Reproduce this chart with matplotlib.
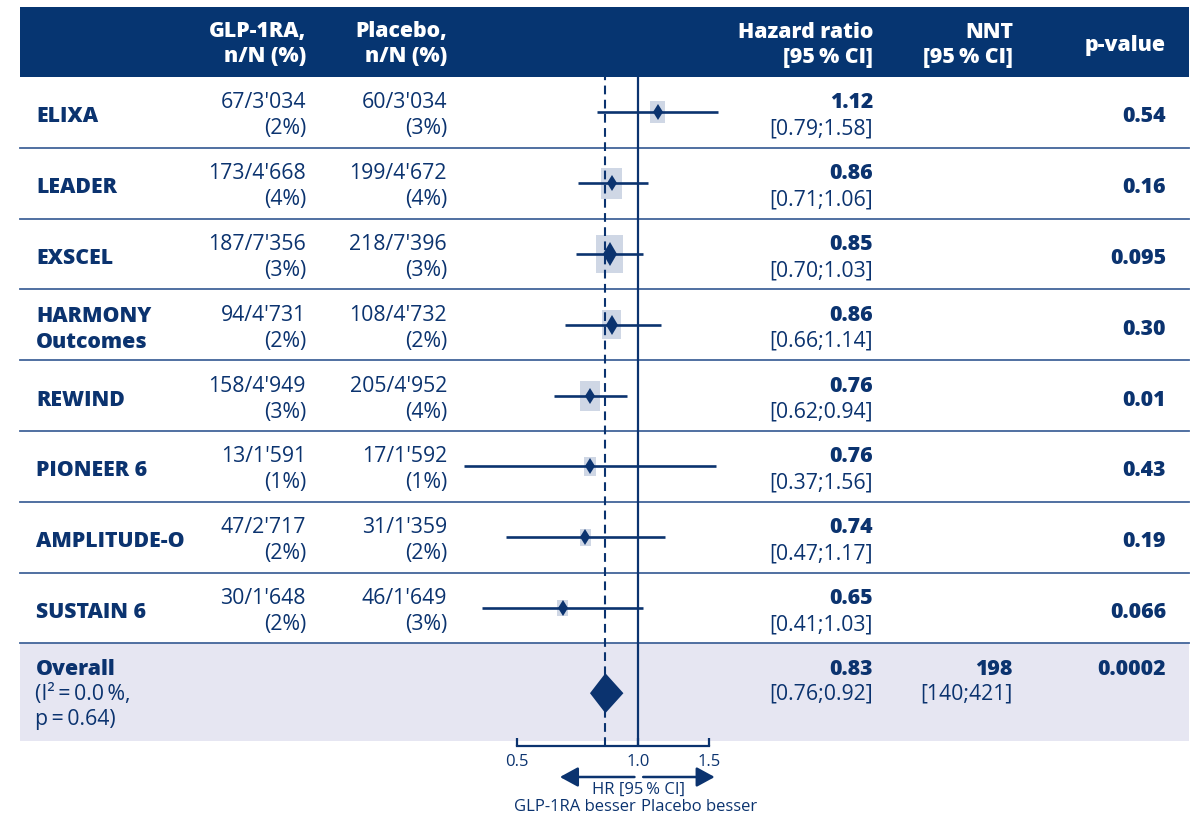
import numpy as np
import matplotlib
matplotlib.use("Agg")
import matplotlib.pyplot as plt
from matplotlib.patches import Rectangle, Polygon
from matplotlib.ticker import NullLocator

plt.rcParams['font.family'] = ['Open Sans', 'Noto Sans', 'DejaVu Sans']

# ---------------- data ----------------
studies = ["ELIXA", "LEADER", "EXSCEL", "HARMONY\nOutcomes", "REWIND",
           "PIONEER 6", "AMPLITUDE-O", "SUSTAIN 6"]
glp_events = [67, 173, 187, 94, 158, 13, 47, 30]
glp_total = [3034, 4668, 7356, 4731, 4949, 1591, 2717, 1648]
glp_pct = [2, 4, 3, 2, 3, 1, 2, 2]
pla_events = [60, 199, 218, 108, 205, 17, 31, 46]
pla_total = [3034, 4672, 7396, 4732, 4952, 1592, 1359, 1649]
pla_pct = [3, 4, 3, 2, 4, 1, 2, 3]
hr = [1.12, 0.86, 0.85, 0.86, 0.76, 0.76, 0.74, 0.65]
ci_lo = [0.79, 0.71, 0.70, 0.66, 0.62, 0.37, 0.47, 0.41]
ci_hi = [1.58, 1.06, 1.03, 1.14, 0.94, 1.56, 1.17, 1.03]
p_values = ["0.54", "0.16", "0.095", "0.30", "0.01", "0.43", "0.19", "0.066"]
weights = [8.6, 17.1, 27.0, 15.0, 16.0, 6.4, 5.1, 4.6]   # study weight (%)

overall_hr = 0.83
overall_lo = 0.76
overall_hi = 0.92
overall_nnt = 198
overall_nnt_lo = 140
overall_nnt_hi = 421
overall_p = "0.0002"
i2 = "0.0"
p_het = "0.64"

xticks = [0.5, 1.0, 1.5]
xtick_labels = ["0.5", "1.0", "1.5"]

# ---------------- style / layout ----------------
NAVY = "#0b336f"
BAND = "#063571"
OVBG = "#e6e6f2"
BOXC = "#cfd7e5"
SEPC = "#42649a"

W, H = 1200, 819
TAB_L, TAB_R = 20, 1189
HEAD_T, HEAD_B = 7, 77
ROW_H = 70.8
OV_B = 741
AXIS_Y = 746
X_NAME, X_GLP, X_PLA, X_HR, X_NNT, X_P = 36, 306, 447, 873, 1013, 1166
FP_L, FP_R = 440, 760
REF_X, PX_LN = 638, 175.0
FS = 15.3
BW = "heavy"
FS_AX = 12

diamond_ms = [8, 8, 12, 10, 8, 8, 8, 8]

fig = plt.figure(figsize=(12, 8.19), dpi=100)
ax_t = fig.add_axes([0, 0, 1, 1])
ax_t.set_xlim(0, W)
ax_t.set_ylim(H, 0)
ax_t.axis("off")
ax_t.set_zorder(0)

n = len(studies)
ov_top = HEAD_B + ROW_H * n

# header band
ax_t.add_patch(Rectangle((TAB_L, HEAD_T), TAB_R - TAB_L, HEAD_B - HEAD_T,
                         color=BAND, lw=0))
# overall band
ax_t.add_patch(Rectangle((TAB_L, ov_top), TAB_R - TAB_L, OV_B - ov_top,
                         color=OVBG, lw=0))

hkw = dict(color="white", fontsize=FS, fontweight=BW, ha="right", va="center")
ax_t.text(X_GLP, 32, "GLP-1RA,", **hkw)
ax_t.text(X_GLP, 57, "n/N (%)", **hkw)
ax_t.text(X_PLA, 32, "Placebo,", **hkw)
ax_t.text(X_PLA, 57, "n/N (%)", **hkw)
ax_t.text(X_HR, 32, "Hazard ratio", **hkw)
ax_t.text(X_HR, 57, "[95\u2009% CI]", **hkw)
ax_t.text(X_NNT, 32, "NNT", **hkw)
ax_t.text(X_NNT, 57, "[95\u2009% CI]", **hkw)
ax_t.text(X_P, 45, "p-value", **hkw)

def fmt_n(v):
    return f"{v:,}".replace(",", "'")

rkw = dict(color=NAVY, fontsize=FS, va="center")
for i in range(n):
    yc = HEAD_B + ROW_H * (i + 0.5) + 3.5
    ax_t.text(X_NAME, yc + 1, studies[i], fontweight=BW, ha="left",
              linespacing=1.3, **rkw)
    ax_t.text(X_GLP, yc - 13, f"{glp_events[i]}/{fmt_n(glp_total[i])}", ha="right", **rkw)
    ax_t.text(X_GLP, yc + 13, f"({glp_pct[i]}%)", ha="right", **rkw)
    ax_t.text(X_PLA, yc - 13, f"{pla_events[i]}/{fmt_n(pla_total[i])}", ha="right", **rkw)
    ax_t.text(X_PLA, yc + 13, f"({pla_pct[i]}%)", ha="right", **rkw)
    ax_t.text(X_HR, yc - 13, f"{hr[i]:.2f}", ha="right", fontweight=BW, **rkw)
    ax_t.text(X_HR, yc + 13, f"[{ci_lo[i]:.2f};{ci_hi[i]:.2f}]", ha="right", **rkw)
    ax_t.text(X_P, yc + 1, p_values[i], ha="right", fontweight=BW, **rkw)
    ax_t.plot([TAB_L, TAB_R], [HEAD_B + ROW_H * (i + 1)] * 2, color=SEPC, lw=1.3)

# overall row text
oy = ov_top + 26
ax_t.text(X_NAME, oy, "Overall", ha="left", fontweight=BW, **rkw)
ax_t.text(X_NAME - 1, oy + 25, f"(I\u00b2\u2009=\u2009{i2}\u2009%,", ha="left", **rkw)
ax_t.text(X_NAME - 1, oy + 50, f"p\u2009=\u2009{p_het})", ha="left", **rkw)
ax_t.text(X_HR, oy, f"{overall_hr:.2f}", ha="right", fontweight=BW, **rkw)
ax_t.text(X_HR, oy + 25, f"[{overall_lo:.2f};{overall_hi:.2f}]", ha="right", **rkw)
ax_t.text(X_NNT, oy, f"{overall_nnt}", ha="right", fontweight=BW, **rkw)
ax_t.text(X_NNT, oy + 25, f"[{overall_nnt_lo};{overall_nnt_hi}]", ha="right", **rkw)
ax_t.text(X_P, oy, overall_p, ha="right", fontweight=BW, **rkw)

# ---------------- forest axes ----------------
ax_f = fig.add_axes([FP_L / W, 1 - AXIS_Y / H, (FP_R - FP_L) / W, (AXIS_Y - HEAD_B) / H])
ax_f.set_zorder(2)
ax_f.patch.set_visible(False)
ax_f.set_xscale("log")
ax_f.set_xlim(np.exp((FP_L - REF_X) / PX_LN), np.exp((FP_R - REF_X) / PX_LN))
ax_f.set_ylim(AXIS_Y, HEAD_B)
for s in ["left", "right", "top"]:
    ax_f.spines[s].set_visible(False)
ax_f.spines["bottom"].set_bounds(xticks[0], xticks[-1])
ax_f.spines["bottom"].set_color(NAVY)
ax_f.spines["bottom"].set_linewidth(1.6)
ax_f.set_yticks([])
ax_f.set_xticks(xticks, labels=xtick_labels)
ax_f.xaxis.set_minor_locator(NullLocator())
ax_f.tick_params(axis="x", direction="in", length=6, width=1.6, color=NAVY,
                 labelcolor=NAVY, labelsize=FS_AX, pad=6)

# reference lines
ax_f.axvline(1.0, color=NAVY, lw=1.6, zorder=3)
ax_f.axvline(overall_hr, color=NAVY, lw=1.5, linestyle=(0, (4.2, 2.6)), zorder=3)

for i in range(n):
    yc = HEAD_B + ROW_H * (i + 0.5)
    h_px = 7.5 * np.sqrt(weights[i])
    w_px = 0.68 * h_px
    half = w_px / 2 / PX_LN
    x0 = hr[i] * np.exp(-half)
    x1 = hr[i] * np.exp(half)
    ax_f.add_patch(Rectangle((x0, yc - h_px / 2), x1 - x0, h_px,
                             color=BOXC, lw=0, zorder=2))
    ax_f.plot([ci_lo[i], ci_hi[i]], [yc, yc], color=NAVY, lw=1.9,
              solid_capstyle="butt", zorder=4)
    ax_f.plot([hr[i]], [yc], marker="d", ms=diamond_ms[i], color=NAVY,
              mew=0, zorder=5)

# overall diamond
ovc = ov_top + (OV_B - ov_top) / 2 + 1
dh = 20
ax_f.add_patch(Polygon([(overall_lo, ovc), (overall_hr, ovc - dh),
                        (overall_hi, ovc), (overall_hr, ovc + dh)],
                       closed=True, color=NAVY, lw=0, zorder=5))

# arrows & labels below the axis
akw = dict(arrowstyle="-|>,head_length=0.55,head_width=0.3", color=NAVY, lw=1.8,
           mutation_scale=20, shrinkA=0, shrinkB=0)
ay = 777
ax_f.annotate("", xy=(0.64, ay), xytext=(0.98, ay), xycoords="data",
              arrowprops=akw, annotation_clip=False)
ax_f.annotate("", xy=(1.55, ay), xytext=(1.03, ay), xycoords="data",
              arrowprops=akw, annotation_clip=False)
ax_f.text(1.0, 790, "HR [95\u2009% CI]", ha="center", va="center", color=NAVY,
          fontsize=FS_AX, clip_on=False)
ax_f.text(0.985, 807, "GLP-1RA besser", ha="right", va="center", color=NAVY,
          fontsize=FS_AX, clip_on=False)
ax_f.text(1.015, 807, "Placebo besser", ha="left", va="center", color=NAVY,
          fontsize=FS_AX, clip_on=False)

fig.savefig("out.png", dpi=100)
